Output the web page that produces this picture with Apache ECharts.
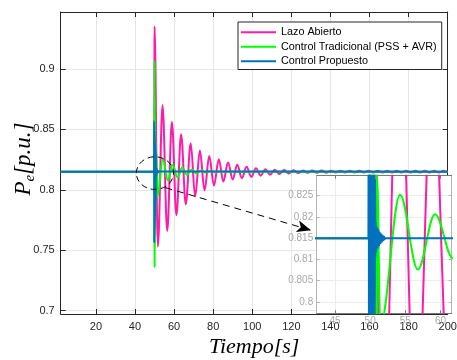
<!DOCTYPE html>
<html><head><meta charset="utf-8">
<script src="https://cdn.jsdelivr.net/npm/echarts@6/dist/echarts.min.js"></script>
<style>html,body{margin:0;padding:0;background:#fff}#c{width:457px;height:360px}</style>
</head><body><div id="c"></div>
<script>
// ---------- data ----------
const seriesNames = ['Lazo Abierto', 'Control Tradicional (PSS + AVR)', 'Control Propuesto'];
const seriesColors = ['#ff1aa8', '#00ff00', '#0072bd'];

// [time s, Pe p.u.] : extrema of each response
const lazoAbierto = [
  [2,0.815],[49.9,0.815],[50.0,0.935],[51.7,0.753],[54.1,0.870],[56.5,0.766],[58.9,0.856],[61.2,0.779],
  [63.6,0.846],[66.0,0.788],[68.5,0.8385],[70.8,0.7945],[73.2,0.8325],[75.6,0.7995],[78.0,0.828],[80.4,0.8035],
  [82.9,0.8252],[85.2,0.8068],[87.6,0.8226],[90.0,0.8085],[92.3,0.8207],[94.7,0.8097],[97.1,0.819],[99.5,0.8107],
  [101.9,0.8178],[104.3,0.8117],[106.7,0.8170],[109.1,0.8125],[111.5,0.8166],[113.9,0.8131],[116.3,0.8163],[118.7,0.8135],
  [121.1,0.8161],[123.5,0.8138],[125.9,0.8160],[128.3,0.8140],[130.7,0.8159],[133.1,0.8141],[135.5,0.8159],[137.9,0.8141],
  [140.3,0.8158],[142.7,0.8142],[145.1,0.8158],[147.5,0.8142],[149.9,0.8158],[152.3,0.8142],[154.7,0.8158],[157.1,0.8142],
  [159.5,0.8158],[161.9,0.8142],[164.3,0.8158],[166.7,0.8142],[169.1,0.8158],[171.5,0.8142],[173.9,0.8158],[176.3,0.8142],
  [178.7,0.8158],[181.1,0.8142],[183.5,0.8158],[185.9,0.8142],[188.3,0.8158],[190.7,0.8142],[193.1,0.8158],[195.5,0.8142],
  [197.9,0.8158],[200,0.8146]
];
const controlTradicional = [
  [2,0.815],[49.9,0.815],[50.0,0.907],[50.05,0.736],[50.1,0.875],[50.15,0.752],[50.2,0.86],[50.25,0.765],
  [50.3,0.85],[50.35,0.773],[50.4,0.845],[50.45,0.779],[50.5,0.84],[50.55,0.784],[50.6,0.836],[50.65,0.788],
  [50.7,0.833],[50.75,0.79],[50.8,0.831],[50.85,0.792],[50.9,0.83],[50.95,0.794],[51.0,0.829],[51.45,0.7945],
  [54.26,0.8252],[56.78,0.8076],[59.23,0.8206],[61.8,0.8102],[64.2,0.8184],[66.6,0.8124],[69.0,0.8168],[71.4,0.8136],
  [73.8,0.816],[76.2,0.8143],[78.6,0.8155],[81.0,0.8147],[83.4,0.8151],[86,0.815],[200,0.815]
];
const controlPropuesto = [
  [2,0.815],[49.75,0.815],[49.8,0.857],[49.85,0.756],[49.9,0.852],[49.95,0.762],[50.0,0.848],[50.05,0.768],
  [50.1,0.844],[50.15,0.773],[50.2,0.84],[50.25,0.778],[50.3,0.837],[50.35,0.782],[50.4,0.835],[50.45,0.786],
  [50.5,0.833],[50.55,0.789],[50.6,0.831],[50.65,0.792],[50.7,0.829],[50.75,0.8105],[50.8,0.819],[50.9,0.8118],
  [51.0,0.8175],[51.1,0.8127],[51.2,0.817],[51.3,0.8133],[51.4,0.8163],[51.5,0.8138],[51.6,0.8159],[51.7,0.8142],
  [51.8,0.8156],[51.9,0.8145],[52.0,0.8153],[52.1,0.8148],[52.2,0.815],[200,0.815]
];

const mainXTicks = [20,40,60,80,100,120,140,160,180,200];
const mainYTicks = [0.7,0.75,0.8,0.85,0.9];
const insetXTicks = [45,50,55,60];
const insetYTicks = [0.8,0.805,0.81,0.815,0.82,0.825];
const mainXRange = [2,200];
const mainYRange = [0.6973,0.947];
const insetXRange = [42.4,61.6];
const insetYRange = [0.7973,0.8297];

// annotation (data coordinates of the main axes)
const zoomCenter = [50.2,0.8138];
const zoomRadius = [9.5,0.0135];
const arrowFrom = [55.5,0.8018];
const arrowTo = [130.0,0.7666];

const xTitle = 'Tiempo[s]';
const yTitle = '{i|P}{s|e}{i|[p.u.]}';

// ---------- chart ----------
const chart = echarts.init(document.getElementById('c'), null, {renderer:'canvas'});
const SANS = 'Liberation Sans, Arial, Helvetica, sans-serif';
const SERIF = 'Liberation Serif, Times New Roman, serif';
const DARK = '#262626';

function axis(kind, o) {
  const a = {
    type:'value', gridIndex:o.grid, position:o.pos, min:o.range[0], max:o.range[1],
    z:o.z || 0, nameMoveOverlap:false,
    axisLine:{show:true, onZero:false, lineStyle:{color:o.lineColor, width:1}},
    axisTick:{show:true, inside:true, length:o.tickLen, customValues:o.ticks, lineStyle:{color:o.lineColor, width:1}},
    axisLabel:{show:!!o.labels, customValues:o.ticks, margin:o.margin || 6, color:o.labelColor, fontSize:o.fontSize || 11, fontFamily:SANS, hideOverlap:false},
    splitLine:{show:!!o.split, lineStyle:{color:o.splitColor || '#e6e6e6', width:1}},
    scale:true
  };
  if (o.name) Object.assign(a, o.name);
  return a;
}

const xAxes = [
  axis('x',{grid:0,pos:'bottom',range:mainXRange,ticks:mainXTicks,lineColor:DARK,tickLen:5,labels:true,labelColor:DARK,margin:7,split:true,
    name:{name:xTitle,nameLocation:'middle',nameGap:22,nameTextStyle:{fontFamily:SERIF,fontStyle:'italic',fontSize:22,color:'#000'}}}),
  axis('x',{grid:0,pos:'top',range:mainXRange,ticks:mainXTicks,lineColor:DARK,tickLen:5}),
  axis('x',{grid:1,pos:'bottom',range:insetXRange,ticks:insetXTicks,lineColor:'#7a7a7a',tickLen:3,labels:true,labelColor:'#a8a8a8',fontSize:10,margin:3,split:true,splitColor:'#ececec',z:3}),
  axis('x',{grid:1,pos:'top',range:insetXRange,ticks:insetXTicks,lineColor:'#7a7a7a',tickLen:3,z:3})
];
const yAxes = [
  axis('y',{grid:0,pos:'left',range:mainYRange,ticks:mainYTicks,lineColor:DARK,tickLen:5,labels:true,labelColor:DARK,margin:6,split:true,
    name:{name:yTitle,nameLocation:'middle',nameRotate:90,nameGap:23,nameTextStyle:{
      padding:[0,0,0,8],
      rich:{i:{fontFamily:SERIF,fontStyle:'italic',fontSize:23,lineHeight:28,color:'#000'},
            s:{fontFamily:SERIF,fontStyle:'italic',fontSize:15,lineHeight:15,verticalAlign:'bottom',color:'#000'}}}}}),
  axis('y',{grid:0,pos:'right',range:mainYRange,ticks:mainYTicks,lineColor:DARK,tickLen:5}),
  axis('y',{grid:1,pos:'left',range:insetYRange,ticks:insetYTicks,lineColor:'#b5b5b5',tickLen:3,labels:true,labelColor:'#a8a8a8',fontSize:10,margin:3.5,split:true,splitColor:'#ececec',z:3}),
  axis('y',{grid:1,pos:'right',range:insetYRange,ticks:insetYTicks,lineColor:'#b5b5b5',tickLen:3,z:3})
];

const dataSets = [lazoAbierto, controlTradicional, controlPropuesto];
const series = [];
[0,1].forEach(function(g){
  dataSets.forEach(function(d,i){
    const s = {
      name:seriesNames[i], type:'line', data:d,
      xAxisIndex:g===0?0:2, yAxisIndex:g===0?0:2,
      showSymbol:false, symbol:'none', smooth:0.36, smoothMonotone:'x',
      lineStyle:{color:seriesColors[i], width:2}, itemStyle:{color:seriesColors[i]},
      emphasis:{disabled:true}, silent:true, animation:false, clip:true,
      z:g===0?2:4
    };
    if (g===0 && i===2) {
      s.markLine = {
        silent:true, animation:false, symbol:['none','arrow'], symbolSize:[9,14],
        label:{show:false}, emphasis:{disabled:true},
        lineStyle:{color:'#000', width:1, type:[7,5]},
        itemStyle:{color:'#000'},
        data:[[{coord:arrowFrom},{coord:arrowTo}]]
      };
    }
    series.push(s);
  });
});

chart.setOption({
  animation:false,
  backgroundColor:'#fff',
  grid:[
    {left:60.7, top:12, width:387, height:302, show:false, containLabel:false, outerBoundsMode:'none'},
    {left:316.7, top:175.7, width:135, height:137.6, show:true, backgroundColor:'#fff', borderWidth:0, z:3, containLabel:false, outerBoundsMode:'none'}
  ],
  legend:{
    data:seriesNames, orient:'vertical', left:238, top:22,
    padding:[4,5,2,3], itemGap:2, itemWidth:35, itemHeight:2, icon:'rect',
    backgroundColor:'#fff', borderColor:DARK, borderWidth:1, borderRadius:0,
    textStyle:{fontSize:10.8, color:'#000', fontFamily:SANS, lineHeight:12.5},
    selectedMode:false, z:6
  },
  xAxis:xAxes,
  yAxis:yAxes,
  series:series
});

const c = chart.convertToPixel({gridIndex:0}, zoomCenter);
const e = chart.convertToPixel({gridIndex:0}, [zoomCenter[0]+zoomRadius[0], zoomCenter[1]+zoomRadius[1]]);
chart.setOption({graphic:[{
  type:'ellipse', silent:true, z:10,
  shape:{cx:c[0], cy:c[1], rx:Math.abs(e[0]-c[0]), ry:Math.abs(c[1]-e[1])},
  style:{fill:'none', stroke:'#000', lineWidth:1, lineDash:[6,4]}
}]});
</script></body></html>
